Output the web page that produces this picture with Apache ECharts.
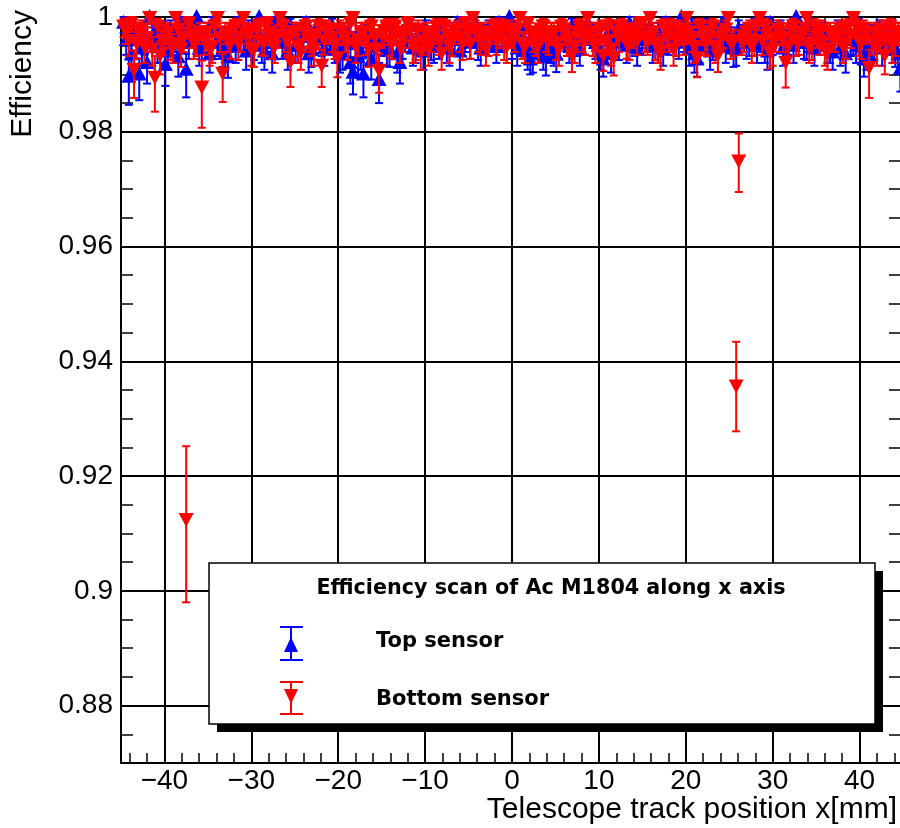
<!DOCTYPE html>
<html>
<head>
<meta charset="utf-8">
<script src="https://cdn.jsdelivr.net/npm/echarts@6/dist/echarts.min.js"></script>
<style>html,body{margin:0;padding:0;background:#fff;}#c{width:900px;height:828px;}</style>
</head>
<body>
<div id="c"></div>
<script>
// ---- data ----
// pass A bins
const xBins = [
-44.7,-44.1,-43.5,-42.9,-42.3,-41.7,-41.1,-40.5,-39.9,-39.3,
-38.7,-38.1,-37.5,-36.9,-36.3,-35.7,-35.1,-34.5,-33.9,-33.3,
-32.7,-32.1,-31.5,-30.9,-30.3,-29.7,-29.1,-28.5,-27.9,-27.3,
-26.7,-26.1,-25.5,-24.9,-24.3,-23.7,-23.1,-22.5,-21.9,-21.3,
-20.7,-20.1,-19.5,-18.9,-18.3,-17.7,-17.1,-16.5,-15.9,-15.3,
-14.7,-14.1,-13.5,-12.9,-12.3,-11.7,-11.1,-10.5,-9.9,-9.3,
-8.7,-8.1,-7.5,-6.9,-6.3,-5.7,-5.1,-4.5,-3.9,-3.3,
-2.7,-2.1,-1.5,-0.9,-0.3,0.3,0.9,1.5,2.1,2.7,
3.3,3.9,4.5,5.1,5.7,6.3,6.9,7.5,8.1,8.7,
9.3,9.9,10.5,11.1,11.7,12.3,12.9,13.5,14.1,14.7,
15.3,15.9,16.5,17.1,17.7,18.3,18.9,19.5,20.1,20.7,
21.3,21.9,22.5,23.1,23.7,24.3,24.9,25.5,26.1,26.7,
27.3,27.9,28.5,29.1,29.7,30.3,30.9,31.5,32.1,32.7,
33.3,33.9,34.5,35.1,35.7,36.3,36.9,37.5,38.1,38.7,
39.3,39.9,40.5,41.1,41.7,42.3,42.9,43.5,44.1,44.7];

const topEff = [
0.9990,0.9896,0.9975,0.9900,0.9960,1.0000,0.9970,0.9950,0.9917,0.9980,
0.9965,0.9990,0.9908,0.9970,1.0000,0.9955,0.9975,0.9990,0.9960,0.9945,
0.9930,0.9975,0.9990,0.9965,0.9980,0.9955,1.0000,0.9940,0.9970,0.9990,
0.9975,0.9960,0.9985,0.9950,0.9970,0.9990,0.9945,0.9980,0.9960,0.9975,
0.9985,0.9960,0.9940,0.9975,0.9903,0.9930,0.9900,0.9965,0.9950,0.9890,
0.9960,0.9945,0.9975,0.9920,0.9965,0.9985,0.9950,0.9970,0.9980,0.9955,
0.9965,0.9980,0.9950,0.9975,0.9990,0.9960,0.9975,0.9985,0.9955,0.9970,
0.9980,0.9965,0.9990,0.9970,1.0000,0.9975,0.9960,0.9985,0.9926,0.9965,
0.9955,0.9930,0.9950,0.9934,0.9975,0.9965,0.9985,0.9960,0.9975,0.9990,
0.9970,0.9950,0.9926,0.9965,0.9980,0.9955,0.9975,0.9990,0.9960,0.9985,
0.9970,0.9985,0.9955,0.9975,0.9990,0.9965,0.9980,1.0000,0.9975,0.9985,
0.9926,0.9970,0.9985,0.9955,0.9975,0.9990,0.9965,0.9945,0.9980,0.9970,
0.9960,0.9985,0.9975,0.9950,0.9990,0.9965,0.9980,0.9955,0.9975,1.0000,
0.9970,0.9955,0.9985,0.9965,0.9975,0.9950,0.9938,0.9980,0.9965,0.9975,
0.9960,0.9985,0.9926,0.9970,0.9955,0.9980,0.9965,0.9975,0.9945,0.9910];

const topErrLow = [
0.0018,0.0049,0.0024,0.0045,0.0026,0.0012,0.0024,0.0030,0.0037,0.0020,
0.0026,0.0018,0.0048,0.0024,0.0012,0.0030,0.0024,0.0018,0.0028,0.0032,
0.0036,0.0024,0.0018,0.0026,0.0020,0.0030,0.0012,0.0032,0.0024,0.0018,
0.0024,0.0028,0.0020,0.0030,0.0024,0.0018,0.0032,0.0020,0.0028,0.0024,
0.0020,0.0028,0.0032,0.0024,0.0038,0.0036,0.0040,0.0026,0.0030,0.0040,
0.0028,0.0032,0.0024,0.0036,0.0026,0.0020,0.0030,0.0024,0.0020,0.0030,
0.0026,0.0020,0.0030,0.0024,0.0018,0.0028,0.0024,0.0020,0.0030,0.0024,
0.0020,0.0026,0.0018,0.0024,0.0012,0.0024,0.0028,0.0020,0.0026,0.0026,
0.0030,0.0032,0.0030,0.0030,0.0024,0.0026,0.0020,0.0028,0.0024,0.0018,
0.0024,0.0030,0.0030,0.0026,0.0020,0.0030,0.0024,0.0018,0.0028,0.0020,
0.0024,0.0020,0.0030,0.0024,0.0018,0.0026,0.0020,0.0012,0.0024,0.0020,
0.0030,0.0024,0.0020,0.0030,0.0024,0.0018,0.0026,0.0032,0.0020,0.0024,
0.0028,0.0020,0.0024,0.0030,0.0018,0.0026,0.0020,0.0030,0.0024,0.0012,
0.0024,0.0030,0.0020,0.0026,0.0024,0.0030,0.0030,0.0020,0.0026,0.0024,
0.0028,0.0020,0.0030,0.0024,0.0030,0.0020,0.0026,0.0024,0.0032,0.0040];

const topErrHigh = [
0.0010,0.0030,0.0015,0.0028,0.0018,0.0000,0.0016,0.0020,0.0025,0.0014,
0.0017,0.0010,0.0028,0.0016,0.0000,0.0020,0.0015,0.0010,0.0018,0.0022,
0.0025,0.0015,0.0010,0.0017,0.0014,0.0020,0.0000,0.0022,0.0016,0.0010,
0.0015,0.0018,0.0012,0.0020,0.0016,0.0010,0.0022,0.0014,0.0018,0.0015,
0.0012,0.0018,0.0022,0.0015,0.0027,0.0025,0.0028,0.0017,0.0020,0.0030,
0.0018,0.0022,0.0015,0.0026,0.0017,0.0012,0.0020,0.0016,0.0014,0.0020,
0.0017,0.0014,0.0020,0.0015,0.0010,0.0018,0.0015,0.0012,0.0020,0.0016,
0.0014,0.0017,0.0010,0.0016,0.0000,0.0015,0.0018,0.0012,0.0026,0.0017,
0.0020,0.0024,0.0020,0.0024,0.0015,0.0017,0.0012,0.0018,0.0015,0.0010,
0.0016,0.0020,0.0024,0.0017,0.0014,0.0020,0.0015,0.0010,0.0018,0.0012,
0.0016,0.0012,0.0020,0.0015,0.0010,0.0017,0.0014,0.0000,0.0015,0.0012,
0.0024,0.0016,0.0012,0.0020,0.0015,0.0010,0.0017,0.0022,0.0014,0.0016,
0.0018,0.0012,0.0015,0.0020,0.0010,0.0017,0.0014,0.0020,0.0015,0.0000,
0.0016,0.0020,0.0012,0.0017,0.0015,0.0020,0.0022,0.0014,0.0017,0.0015,
0.0018,0.0012,0.0024,0.0016,0.0020,0.0014,0.0017,0.0015,0.0022,0.0028];

const bottomEff = [
0.9985,0.9960,0.9910,0.9975,0.9950,1.0000,0.9896,0.9934,0.9970,0.9955,
1.0000,0.9945,0.9125,0.9970,0.9960,0.9879,0.9975,0.9950,1.0000,0.9903,
0.9965,0.9980,0.9955,1.0000,0.9970,0.9945,0.9985,0.9960,0.9975,0.9950,
1.0000,0.9965,0.9923,0.9975,0.9940,0.9985,0.9960,0.9970,0.9917,0.9980,
0.9965,0.9930,0.9975,0.9955,1.0000,0.9960,0.9975,0.9945,0.9970,0.9908,
0.9975,0.9960,0.9985,0.9950,0.9970,0.9980,0.9955,0.9940,0.9975,0.9965,
0.9985,0.9938,0.9970,0.9960,0.9980,0.9955,0.9975,1.0000,0.9965,0.9975,
0.9960,0.9985,0.9970,0.9955,0.9980,0.9965,1.0000,0.9950,0.9975,0.9960,
0.9980,0.9965,0.9975,0.9955,0.9985,0.9960,0.9934,0.9975,0.9965,1.0000,
0.9960,0.9975,0.9934,0.9985,0.9930,0.9965,0.9980,0.9955,0.9975,0.9990,
0.9965,1.0000,0.9955,0.9940,0.9975,0.9985,0.9960,0.9975,1.0000,0.9965,
0.9930,0.9975,0.9960,0.9985,0.9934,0.9970,1.0000,0.9960,0.9750,0.9965,
0.9980,0.9960,1.0000,0.9985,0.9940,0.9965,0.9975,0.9922,0.9980,0.9960,
0.9975,1.0000,0.9955,0.9970,0.9980,0.9940,0.9965,0.9975,0.9950,0.9985,
1.0000,0.9960,0.9980,0.9913,0.9975,0.9965,0.9934,0.9985,0.9960,0.9975];

const bottomErrLow = [
0.0020,0.0028,0.0051,0.0024,0.0030,0.0012,0.0061,0.0034,0.0024,0.0030,
0.0012,0.0032,0.0145,0.0024,0.0028,0.0072,0.0024,0.0030,0.0012,0.0051,
0.0026,0.0020,0.0030,0.0012,0.0024,0.0032,0.0020,0.0028,0.0024,0.0030,
0.0012,0.0026,0.0045,0.0024,0.0032,0.0020,0.0028,0.0024,0.0039,0.0020,
0.0026,0.0035,0.0024,0.0030,0.0012,0.0028,0.0024,0.0032,0.0024,0.0040,
0.0024,0.0028,0.0020,0.0030,0.0024,0.0020,0.0030,0.0032,0.0024,0.0026,
0.0020,0.0030,0.0024,0.0028,0.0020,0.0030,0.0024,0.0012,0.0026,0.0024,
0.0028,0.0020,0.0024,0.0030,0.0020,0.0026,0.0012,0.0030,0.0024,0.0028,
0.0020,0.0026,0.0024,0.0030,0.0020,0.0028,0.0030,0.0024,0.0026,0.0012,
0.0028,0.0024,0.0028,0.0020,0.0032,0.0026,0.0020,0.0030,0.0024,0.0018,
0.0026,0.0012,0.0030,0.0032,0.0024,0.0020,0.0028,0.0024,0.0012,0.0026,
0.0035,0.0024,0.0028,0.0020,0.0030,0.0024,0.0012,0.0028,0.0055,0.0026,
0.0020,0.0028,0.0012,0.0020,0.0030,0.0026,0.0024,0.0045,0.0020,0.0028,
0.0024,0.0012,0.0030,0.0024,0.0020,0.0032,0.0026,0.0024,0.0030,0.0020,
0.0012,0.0028,0.0020,0.0054,0.0024,0.0026,0.0034,0.0020,0.0028,0.0024];

const bottomErrHigh = [
0.0012,0.0018,0.0032,0.0015,0.0020,0.0000,0.0036,0.0024,0.0016,0.0020,
0.0000,0.0022,0.0127,0.0016,0.0018,0.0045,0.0015,0.0020,0.0000,0.0032,
0.0017,0.0014,0.0020,0.0000,0.0016,0.0022,0.0012,0.0018,0.0015,0.0020,
0.0000,0.0017,0.0028,0.0015,0.0022,0.0012,0.0018,0.0016,0.0026,0.0014,
0.0017,0.0024,0.0015,0.0020,0.0000,0.0018,0.0015,0.0022,0.0016,0.0028,
0.0015,0.0018,0.0012,0.0020,0.0016,0.0014,0.0020,0.0022,0.0015,0.0017,
0.0012,0.0022,0.0016,0.0018,0.0014,0.0020,0.0015,0.0000,0.0017,0.0015,
0.0018,0.0012,0.0016,0.0020,0.0014,0.0017,0.0000,0.0020,0.0015,0.0018,
0.0014,0.0017,0.0015,0.0020,0.0012,0.0018,0.0024,0.0015,0.0017,0.0000,
0.0018,0.0015,0.0024,0.0012,0.0024,0.0017,0.0014,0.0020,0.0015,0.0010,
0.0017,0.0000,0.0020,0.0022,0.0015,0.0012,0.0018,0.0015,0.0000,0.0017,
0.0024,0.0015,0.0018,0.0012,0.0024,0.0016,0.0000,0.0018,0.0047,0.0017,
0.0014,0.0018,0.0000,0.0012,0.0022,0.0017,0.0015,0.0028,0.0014,0.0018,
0.0015,0.0000,0.0020,0.0016,0.0014,0.0022,0.0017,0.0015,0.0020,0.0012,
0.0000,0.0018,0.0014,0.0030,0.0015,0.0017,0.0024,0.0012,0.0018,0.0015];

// pass B bins (interleaved)
const xBinsB = [
-44.4,-43.8,-43.2,-42.6,-42.0,-41.4,-40.8,-40.2,-39.6,-39.0,
-38.4,-37.8,-37.2,-36.6,-36.0,-35.4,-34.8,-34.2,-33.6,-33.0,
-32.4,-31.8,-31.2,-30.6,-30.0,-29.4,-28.8,-28.2,-27.6,-27.0,
-26.4,-25.8,-25.2,-24.6,-24.0,-23.4,-22.8,-22.2,-21.6,-21.0,
-20.4,-19.8,-19.2,-18.6,-18.0,-17.4,-16.8,-16.2,-15.6,-15.0,
-14.4,-13.8,-13.2,-12.6,-12.0,-11.4,-10.8,-10.2,-9.6,-9.0,
-8.4,-7.8,-7.2,-6.6,-6.0,-5.4,-4.8,-4.2,-3.6,-3.0,
-2.4,-1.8,-1.2,-0.6,0.0,0.6,1.2,1.8,2.4,3.0,
3.6,4.2,4.8,5.4,6.0,6.6,7.2,7.8,8.4,9.0,
9.6,10.2,10.8,11.4,12.0,12.6,13.2,13.8,14.4,15.0,
15.6,16.2,16.8,17.4,18.0,18.6,19.2,19.8,20.4,21.0,
21.6,22.2,22.8,23.4,24.0,24.6,25.2,25.8,26.4,27.0,
27.6,28.2,28.8,29.4,30.0,30.6,31.2,31.8,32.4,33.0,
33.6,34.2,34.8,35.4,36.0,36.6,37.2,37.8,38.4,39.0,
39.6,40.2,40.8,41.4,42.0,42.6,43.2,43.8,44.4];

const topEffB = [
0.9960,0.9935,0.9975,0.9945,0.9920,0.9965,0.9950,0.9980,0.9940,0.9960,
0.9930,0.9970,0.9955,0.9985,0.9945,0.9965,0.9935,0.9975,0.9955,0.9940,
0.9965,0.9950,0.9980,0.9940,0.9960,0.9975,0.9950,0.9965,0.9935,0.9970,
0.9955,0.9940,0.9970,0.9950,0.9965,0.9935,0.9960,0.9975,0.9945,0.9960,
0.9950,0.9935,0.9965,0.9920,0.9955,0.9940,0.9970,0.9925,0.9950,0.9960,
0.9945,0.9965,0.9935,0.9955,0.9975,0.9945,0.9960,0.9940,0.9965,0.9950,
0.9955,0.9970,0.9945,0.9960,0.9940,0.9965,0.9955,0.9975,0.9945,0.9960,
0.9970,0.9950,0.9965,0.9985,0.9955,0.9945,0.9960,0.9940,0.9935,0.9955,
0.9940,0.9960,0.9945,0.9955,0.9970,0.9950,0.9965,0.9945,0.9960,0.9975,
0.9955,0.9940,0.9965,0.9935,0.9960,0.9975,0.9950,0.9965,0.9945,0.9960,
0.9965,0.9950,0.9975,0.9945,0.9960,0.9970,0.9955,0.9965,0.9945,0.9935,
0.9950,0.9965,0.9940,0.9960,0.9975,0.9950,0.9965,0.9945,0.9960,0.9955,
0.9970,0.9950,0.9965,0.9940,0.9960,0.9975,0.9945,0.9960,0.9950,0.9970,
0.9955,0.9965,0.9945,0.9960,0.9975,0.9950,0.9965,0.9945,0.9935,0.9960,
0.9950,0.9965,0.9940,0.9955,0.9970,0.9945,0.9960,0.9950,0.9935];

const topErrLowB = [
0.0026,0.0032,0.0022,0.0030,0.0036,0.0026,0.0030,0.0020,0.0032,0.0026,
0.0034,0.0024,0.0028,0.0020,0.0030,0.0026,0.0032,0.0022,0.0028,0.0032,
0.0026,0.0030,0.0020,0.0032,0.0026,0.0022,0.0030,0.0026,0.0032,0.0024,
0.0028,0.0032,0.0024,0.0030,0.0026,0.0032,0.0026,0.0022,0.0030,0.0026,
0.0030,0.0032,0.0026,0.0036,0.0028,0.0032,0.0024,0.0034,0.0030,0.0026,
0.0030,0.0026,0.0032,0.0028,0.0022,0.0030,0.0026,0.0032,0.0026,0.0030,
0.0028,0.0024,0.0030,0.0026,0.0032,0.0026,0.0028,0.0022,0.0030,0.0026,
0.0024,0.0030,0.0026,0.0020,0.0028,0.0030,0.0026,0.0032,0.0032,0.0028,
0.0032,0.0026,0.0030,0.0028,0.0024,0.0030,0.0026,0.0030,0.0026,0.0022,
0.0028,0.0032,0.0026,0.0032,0.0026,0.0022,0.0030,0.0026,0.0030,0.0026,
0.0026,0.0030,0.0022,0.0030,0.0026,0.0024,0.0028,0.0026,0.0030,0.0032,
0.0030,0.0026,0.0032,0.0026,0.0022,0.0030,0.0026,0.0030,0.0026,0.0028,
0.0024,0.0030,0.0026,0.0032,0.0026,0.0022,0.0030,0.0026,0.0030,0.0024,
0.0028,0.0026,0.0030,0.0026,0.0022,0.0030,0.0026,0.0030,0.0032,0.0026,
0.0030,0.0026,0.0032,0.0028,0.0024,0.0030,0.0026,0.0030,0.0034];

const topErrHighB = [
0.0017,0.0022,0.0015,0.0020,0.0024,0.0017,0.0020,0.0013,0.0022,0.0017,
0.0023,0.0016,0.0019,0.0013,0.0020,0.0017,0.0022,0.0015,0.0019,0.0022,
0.0017,0.0020,0.0013,0.0022,0.0017,0.0015,0.0020,0.0017,0.0022,0.0016,
0.0019,0.0022,0.0016,0.0020,0.0017,0.0022,0.0017,0.0015,0.0020,0.0017,
0.0020,0.0022,0.0017,0.0024,0.0019,0.0022,0.0016,0.0023,0.0020,0.0017,
0.0020,0.0017,0.0022,0.0019,0.0015,0.0020,0.0017,0.0022,0.0017,0.0020,
0.0019,0.0016,0.0020,0.0017,0.0022,0.0017,0.0019,0.0015,0.0020,0.0017,
0.0016,0.0020,0.0017,0.0013,0.0019,0.0020,0.0017,0.0022,0.0022,0.0019,
0.0022,0.0017,0.0020,0.0019,0.0016,0.0020,0.0017,0.0020,0.0017,0.0015,
0.0019,0.0022,0.0017,0.0022,0.0017,0.0015,0.0020,0.0017,0.0020,0.0017,
0.0017,0.0020,0.0015,0.0020,0.0017,0.0016,0.0019,0.0017,0.0020,0.0022,
0.0020,0.0017,0.0022,0.0017,0.0015,0.0020,0.0017,0.0020,0.0017,0.0019,
0.0016,0.0020,0.0017,0.0022,0.0017,0.0015,0.0020,0.0017,0.0020,0.0016,
0.0019,0.0017,0.0020,0.0017,0.0015,0.0020,0.0017,0.0020,0.0022,0.0017,
0.0020,0.0017,0.0022,0.0019,0.0016,0.0020,0.0017,0.0020,0.0023];

const bottomEffB = [
0.9975,0.9990,0.9955,0.9980,0.9965,0.9945,0.9985,0.9960,0.9975,0.9950,
0.9980,0.9965,0.9990,0.9955,0.9975,0.9960,0.9945,0.9985,0.9965,0.9975,
0.9955,0.9985,0.9965,0.9975,0.9945,0.9980,0.9960,0.9990,0.9955,0.9970,
0.9985,0.9960,0.9975,0.9950,0.9980,0.9965,0.9945,0.9985,0.9960,0.9975,
0.9955,0.9980,0.9965,0.9990,0.9950,0.9975,0.9960,0.9985,0.9945,0.9970,
0.9985,0.9955,0.9975,0.9965,0.9990,0.9950,0.9980,0.9960,0.9945,0.9975,
0.9960,0.9985,0.9950,0.9975,0.9965,0.9990,0.9955,0.9980,0.9960,0.9945,
0.9975,0.9960,0.9985,0.9950,0.9970,0.9980,0.9955,0.9990,0.9965,0.9950,
0.9985,0.9960,0.9975,0.9945,0.9980,0.9965,0.9950,0.9985,0.9960,0.9975,
0.9950,0.9980,0.9960,0.9945,0.9975,0.9985,0.9955,0.9970,0.9960,0.9990,
0.9960,0.9975,0.9950,0.9985,0.9965,0.9945,0.9980,0.9960,0.9975,0.9950,
0.9985,0.9960,0.9975,0.9950,0.9965,0.9980,0.9955,0.9358,0.9960,0.9975,
0.9950,0.9985,0.9960,0.9975,0.9945,0.9980,0.9965,0.9950,0.9985,0.9960,
0.9975,0.9950,0.9985,0.9960,0.9945,0.9975,0.9965,0.9980,0.9955,0.9970,
0.9985,0.9955,0.9975,0.9960,0.9945,0.9980,0.9965,0.9950,0.9975];

const bottomErrLowB = [
0.0022,0.0016,0.0028,0.0020,0.0026,0.0030,0.0020,0.0026,0.0022,0.0030,
0.0020,0.0026,0.0016,0.0028,0.0022,0.0026,0.0030,0.0020,0.0026,0.0022,
0.0028,0.0020,0.0026,0.0022,0.0030,0.0020,0.0026,0.0016,0.0028,0.0024,
0.0020,0.0026,0.0022,0.0030,0.0020,0.0026,0.0030,0.0020,0.0026,0.0022,
0.0028,0.0020,0.0026,0.0016,0.0030,0.0022,0.0026,0.0020,0.0030,0.0024,
0.0020,0.0028,0.0022,0.0026,0.0016,0.0030,0.0020,0.0026,0.0030,0.0022,
0.0026,0.0020,0.0030,0.0022,0.0026,0.0016,0.0028,0.0020,0.0026,0.0030,
0.0022,0.0026,0.0020,0.0030,0.0024,0.0020,0.0028,0.0016,0.0026,0.0030,
0.0020,0.0026,0.0022,0.0030,0.0020,0.0026,0.0030,0.0020,0.0026,0.0022,
0.0030,0.0020,0.0026,0.0030,0.0022,0.0020,0.0028,0.0024,0.0026,0.0016,
0.0026,0.0022,0.0030,0.0020,0.0026,0.0030,0.0020,0.0026,0.0022,0.0030,
0.0020,0.0026,0.0022,0.0030,0.0026,0.0020,0.0028,0.0080,0.0026,0.0022,
0.0030,0.0020,0.0026,0.0022,0.0030,0.0020,0.0026,0.0030,0.0020,0.0026,
0.0022,0.0030,0.0020,0.0026,0.0030,0.0022,0.0026,0.0020,0.0028,0.0024,
0.0020,0.0028,0.0022,0.0026,0.0030,0.0020,0.0026,0.0030,0.0022];

const bottomErrHighB = [
0.0015,0.0010,0.0019,0.0014,0.0017,0.0020,0.0012,0.0017,0.0015,0.0020,
0.0014,0.0017,0.0010,0.0019,0.0015,0.0017,0.0020,0.0012,0.0017,0.0015,
0.0019,0.0012,0.0017,0.0015,0.0020,0.0014,0.0017,0.0010,0.0019,0.0016,
0.0012,0.0017,0.0015,0.0020,0.0014,0.0017,0.0020,0.0012,0.0017,0.0015,
0.0019,0.0014,0.0017,0.0010,0.0020,0.0015,0.0017,0.0012,0.0020,0.0016,
0.0012,0.0019,0.0015,0.0017,0.0010,0.0020,0.0014,0.0017,0.0020,0.0015,
0.0017,0.0012,0.0020,0.0015,0.0017,0.0010,0.0019,0.0014,0.0017,0.0020,
0.0015,0.0017,0.0012,0.0020,0.0016,0.0014,0.0019,0.0010,0.0017,0.0020,
0.0012,0.0017,0.0015,0.0020,0.0014,0.0017,0.0020,0.0012,0.0017,0.0015,
0.0020,0.0014,0.0017,0.0020,0.0015,0.0012,0.0019,0.0016,0.0017,0.0010,
0.0017,0.0015,0.0020,0.0012,0.0017,0.0020,0.0014,0.0017,0.0015,0.0020,
0.0012,0.0017,0.0015,0.0020,0.0017,0.0014,0.0019,0.0076,0.0017,0.0015,
0.0020,0.0012,0.0017,0.0015,0.0020,0.0014,0.0017,0.0020,0.0012,0.0017,
0.0015,0.0020,0.0012,0.0017,0.0020,0.0015,0.0017,0.0014,0.0019,0.0016,
0.0012,0.0019,0.0015,0.0017,0.0020,0.0014,0.0017,0.0020,0.0015];

const xMajorTicks = [-40,-30,-20,-10,0,10,20,30,40];
const xMinorTicks = [-44,-42,-40,-38,-36,-34,-32,-30,-28,-26,-24,-22,-20,-18,-16,-14,-12,-10,-8,-6,-4,-2,0,
  2,4,6,8,10,12,14,16,18,20,22,24,26,28,30,32,34,36,38,40,42,44];
const yMajorTicks = [0.88,0.90,0.92,0.94,0.96,0.98,1.00];
const yMinorTicks = [0.875,0.880,0.885,0.890,0.895,0.900,0.905,0.910,0.915,0.920,0.925,0.930,0.935,
  0.940,0.945,0.950,0.955,0.960,0.965,0.970,0.975,0.980,0.985,0.990,0.995,1.000];

const legendTitle = 'Efficiency scan of Ac M1804 along x axis';
const seriesNames = ['Top sensor', 'Bottom sensor'];
const xTitle = 'Telescope track position x[mm]';
const yTitle = 'Efficiency';

// ---- build ----
const BLUE = '#0000ff', RED = '#ff0000';
function rows(xs, eff, lo, hi) {
  return xs.map((x, i) => [x, eff[i], eff[i] - lo[i], eff[i] + hi[i]]);
}
function makeRender(color, up) {
  return function (params, api) {
    const x = api.value(0);
    const p = api.coord([x, api.value(1)]);
    const pl = api.coord([x, api.value(2)]);
    const ph = api.coord([x, api.value(3)]);
    const cw = 4, hw = 7.5, hh = 7;
    const st = { stroke: color, lineWidth: 2 };
    const tri = up
      ? [[p[0], p[1] - hh - 1], [p[0] - hw, p[1] + hh - 1], [p[0] + hw, p[1] + hh - 1]]
      : [[p[0] - hw, p[1] - hh + 1], [p[0] + hw, p[1] - hh + 1], [p[0], p[1] + hh + 1]];
    return {
      type: 'group',
      children: [
        { type: 'line', shape: { x1: p[0], y1: pl[1], x2: p[0], y2: ph[1] }, style: st },
        { type: 'line', shape: { x1: p[0] - cw, y1: pl[1], x2: p[0] + cw, y2: pl[1] }, style: st },
        { type: 'line', shape: { x1: p[0] - cw, y1: ph[1], x2: p[0] + cw, y2: ph[1] }, style: st },
        { type: 'polygon', shape: { points: tri }, style: { fill: color } }
      ]
    };
  };
}

const XMIN = -45, XMAX = 45, YMIN = 0.87, YMAX = 1.0;
const blk = '#000';
const FONT = 'Liberation Sans, Arial, sans-serif';
function xAx(pos, ticks, len, main) {
  return {
    type: 'value', position: pos, min: XMIN, max: XMAX,
    axisLine: { show: main, onZero: false, lineStyle: { color: blk, width: 2 } },
    axisTick: { show: true, inside: true, length: len, customValues: ticks, lineStyle: { color: blk, width: 1.5 } },
    axisLabel: main && pos === 'bottom' ? {
      show: true, customValues: xMajorTicks, margin: 4, color: blk,
      fontFamily: FONT, fontSize: 28,
      formatter: v => (v < 0 ? '\u2212' + Math.abs(v) : String(v))
    } : { show: false },
    splitLine: main && pos === 'bottom' ? { show: true, lineStyle: { color: blk, width: 2 } } : { show: false },
    minorTick: { show: false }
  };
}
function yAx(pos, ticks, len, main) {
  return {
    type: 'value', position: pos, min: YMIN, max: YMAX,
    axisLine: { show: main, onZero: false, lineStyle: { color: blk, width: 2 } },
    axisTick: { show: true, inside: true, length: len, customValues: ticks, lineStyle: { color: blk, width: 1.5 } },
    axisLabel: main && pos === 'left' ? {
      show: true, customValues: yMajorTicks, margin: 8, color: blk,
      fontFamily: FONT, fontSize: 28
    } : { show: false },
    splitLine: main && pos === 'left' ? { show: true, lineStyle: { color: blk, width: 2 } } : { show: false },
    minorTick: { show: false }
  };
}

const LEG = 'DejaVu Sans, Liberation Sans, sans-serif';
const chart = echarts.init(document.getElementById('c'), null, { renderer: 'canvas' });
chart.setOption({
  animation: false,
  backgroundColor: '#fff',
  grid: { left: 121, right: -3, top: 17, bottom: 65, containLabel: false, outerBoundsMode: 'none' },
  xAxis: [
    xAx('bottom', xMajorTicks, 20, true),
    xAx('bottom', xMinorTicks, 10, false),
    xAx('top', xMajorTicks, 20, true),
    xAx('top', xMinorTicks, 10, false)
  ],
  yAxis: [
    yAx('left', yMajorTicks, 22, true),
    yAx('left', yMinorTicks, 12, false),
    yAx('right', yMajorTicks, 22, true),
    yAx('right', yMinorTicks, 14, false)
  ],
  series: [
    { type: 'custom', name: seriesNames[0], xAxisIndex: 0, yAxisIndex: 0, clip: false,
      renderItem: makeRender(BLUE, true), encode: { x: 0, y: [1, 2, 3] },
      data: rows(xBins, topEff, topErrLow, topErrHigh).concat(rows(xBinsB, topEffB, topErrLowB, topErrHighB)), z: 3 },
    { type: 'custom', name: seriesNames[1], xAxisIndex: 0, yAxisIndex: 0, clip: false,
      renderItem: makeRender(RED, false), encode: { x: 0, y: [1, 2, 3] },
      data: rows(xBins, bottomEff, bottomErrLow, bottomErrHigh).concat(rows(xBinsB, bottomEffB, bottomErrLowB, bottomErrHighB)), z: 4 }
  ],
  graphic: [
    { type: 'text', x: 8, y: 10, rotation: Math.PI / 2, z: 10,
      style: { text: yTitle, fill: blk, fontFamily: FONT, fontSize: 30,
               textAlign: 'right', textVerticalAlign: 'top' } },
    { type: 'text', x: 897, y: 795, z: 10,
      style: { text: xTitle, fill: blk, fontFamily: FONT, fontSize: 30,
               textAlign: 'right', textVerticalAlign: 'top' } },
    // legend box with shadow
    { type: 'rect', shape: { x: 217, y: 571, width: 666, height: 161 }, style: { fill: blk }, z: 20 },
    { type: 'rect', shape: { x: 209, y: 563, width: 666, height: 161 },
      style: { fill: '#fff', stroke: blk, lineWidth: 1.5 }, z: 21 },
    { type: 'text', x: 551, y: 589, z: 22,
      style: { text: legendTitle, fill: blk, fontFamily: LEG, fontWeight: 'bold', fontSize: 20.7,
               textAlign: 'center', textVerticalAlign: 'middle' } },
    { type: 'text', x: 376, y: 642, z: 22,
      style: { text: seriesNames[0], fill: blk, fontFamily: LEG, fontWeight: 'bold', fontSize: 21,
               textAlign: 'left', textVerticalAlign: 'middle' } },
    { type: 'text', x: 376, y: 700, z: 22,
      style: { text: seriesNames[1], fill: blk, fontFamily: LEG, fontWeight: 'bold', fontSize: 21,
               textAlign: 'left', textVerticalAlign: 'middle' } },
    // legend entry symbols
    { type: 'line', z: 23, shape: { x1: 291, y1: 627, x2: 291, y2: 660 }, style: { stroke: BLUE, lineWidth: 2 } },
    { type: 'line', z: 23, shape: { x1: 280, y1: 627, x2: 303, y2: 627 }, style: { stroke: BLUE, lineWidth: 2 } },
    { type: 'line', z: 23, shape: { x1: 280, y1: 660, x2: 303, y2: 660 }, style: { stroke: BLUE, lineWidth: 2 } },
    { type: 'polygon', z: 24, shape: { points: [[291, 637], [284, 652], [298, 652]] }, style: { fill: BLUE } },
    { type: 'line', z: 23, shape: { x1: 291, y1: 682, x2: 291, y2: 714 }, style: { stroke: RED, lineWidth: 2 } },
    { type: 'line', z: 23, shape: { x1: 280, y1: 682, x2: 303, y2: 682 }, style: { stroke: RED, lineWidth: 2 } },
    { type: 'line', z: 23, shape: { x1: 280, y1: 714, x2: 303, y2: 714 }, style: { stroke: RED, lineWidth: 2 } },
    { type: 'polygon', z: 24, shape: { points: [[284, 689], [298, 689], [291, 704]] }, style: { fill: RED } }
  ]
});
</script>
</body>
</html>
